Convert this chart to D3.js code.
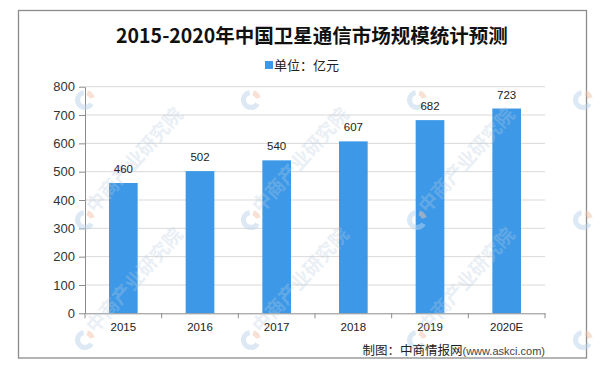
<!DOCTYPE html>
<html>
<head>
<meta charset="utf-8">
<script src="https://cdn.jsdelivr.net/npm/d3@7"></script>
<style>
  html, body { margin: 0; padding: 0; background: #fff; }
  svg { display: block; }
</style>
</head>
<body>
<div id="chart"></div>
<script>
(function(){
  // data
  const years = ["2015", "2016", "2017", "2018", "2019", "2020E"];
  const values = [460, 502, 540, 607, 682, 723];
  const yTicks = [0, 100, 200, 300, 400, 500, 600, 700, 800];

  const title = "2015-2020年中国卫星通信市场规模统计预测";
  const legendLabel = "单位：亿元";

  const w = 602, h = 370;
  const left = 85, right = 545, top = 86.7, bottom = 313.3;
  const barColor = "#3d99e8";
  const latin = "'Liberation Sans', Arial, sans-serif";
  const cjk = "'Noto Sans CJK SC', 'Noto Sans', sans-serif";

  const svg = d3.select("#chart")
    .append("svg")
    .attr("width", w)
    .attr("height", h);

  svg.append("rect")
    .attr("width", w).attr("height", h)
    .attr("fill", "#fff");

  // outer frame
  svg.append("rect")
    .attr("x", 18.5).attr("y", 10.5)
    .attr("width", 568).attr("height", 347.5)
    .attr("fill", "none")
    .attr("stroke", "#8c8c8c")
    .attr("stroke-width", 1.3);

  // SCALES
  const x = d3.scaleBand()
    .domain(years)
    .range([left, right])
    .paddingInner(0.626)
    .paddingOuter(0.313);

  const xEdges = d3.scaleBand().domain(years).range([left, right]);

  const y = d3.scaleLinear()
    .domain([0, 800])
    .range([bottom, top]);

  // GRID
  svg.append("g")
    .selectAll("line")
    .data(yTicks.filter(d => d > 0))
    .enter()
    .append("line")
    .attr("x1", left).attr("x2", right)
    .attr("y1", d => y(d)).attr("y2", d => y(d))
    .attr("stroke", "#d9d9d9")
    .attr("stroke-width", 1);

  // BARS
  svg.append("g")
    .selectAll("rect")
    .data(values)
    .enter()
    .append("rect")
    .attr("x", (d, i) => x(years[i]))
    .attr("y", d => y(d))
    .attr("width", x.bandwidth())
    .attr("height", d => y(0) - y(d))
    .attr("fill", barColor);

  // AXES
  const yAxis = d3.axisLeft(y)
    .tickValues(yTicks)
    .tickSize(6)
    .tickSizeOuter(0)
    .tickPadding(4);

  const yg = svg.append("g")
    .attr("transform", "translate(" + left + ",0)")
    .call(yAxis);
  yg.selectAll("path, line").attr("stroke", "#8c8c8c");
  yg.selectAll("text")
    .attr("font-family", latin)
    .attr("font-size", 13)
    .attr("fill", "#333");

  const xAxis = d3.axisBottom(xEdges)
    .tickSize(0)
    .tickPadding(10);
  const xg = svg.append("g")
    .attr("transform", "translate(0," + bottom + ")")
    .call(xAxis);
  xg.select(".domain").attr("stroke", "#8c8c8c");
  xg.selectAll("text")
    .attr("font-family", latin)
    .attr("font-size", 11.5)
    .attr("fill", "#222");

  // category separators under the x axis
  const edges = years.map(d => xEdges(d)).concat([right]);
  svg.append("g")
    .selectAll("line")
    .data(edges)
    .enter()
    .append("line")
    .attr("x1", d => d).attr("x2", d => d)
    .attr("y1", bottom).attr("y2", bottom + 5)
    .attr("stroke", "#8c8c8c");

  // WATERMARKS
  const arc = d3.arc().innerRadius(5).outerRadius(10);
  const wm = svg.append("g").attr("pointer-events", "none");
  [85, 251, 417, 583].forEach(cx => {
    [100, 220, 340].forEach(cy => {
      const g = wm.append("g").attr("transform", "translate(" + cx + "," + cy + ")");
      g.append("path")
        .attr("d", arc({startAngle: 2.1, endAngle: 6.1}))
        .attr("fill", "#b9d4ec").attr("opacity", 0.5);
      g.append("path")
        .attr("d", arc({startAngle: 0.3, endAngle: 1.3}))
        .attr("fill", "#f2c4aa").attr("opacity", 0.5);
      if (cx < 500 && cy > 100) {
        g.append("text")
          .attr("transform", "translate(10,-6) rotate(-48)")
          .attr("font-family", cjk)
          .attr("font-weight", 700)
          .attr("font-size", 19)
          .attr("fill", "#b8cde0")
          .attr("opacity", 0.3)
          .text("中商产业研究院");
      }
    });
  });

  // VALUE LABELS
  svg.append("g")
    .selectAll("text")
    .data(values)
    .enter()
    .append("text")
    .attr("x", (d, i) => x(years[i]) + x.bandwidth() / 2)
    .attr("y", d => y(d) - 10)
    .attr("text-anchor", "middle")
    .attr("font-family", latin)
    .attr("font-size", 11.5)
    .attr("fill", "#222")
    .text(d => d);

  // TITLE
  svg.append("text")
    .attr("x", 312)
    .attr("y", 43)
    .attr("text-anchor", "middle")
    .attr("font-family", cjk)
    .attr("font-weight", 700)
    .attr("font-size", 19.5)
    .attr("fill", "#111")
    .text(title);

  // LEGEND
  svg.append("rect")
    .attr("x", 265).attr("y", 61)
    .attr("width", 8).attr("height", 8)
    .attr("fill", barColor);
  svg.append("text")
    .attr("x", 274).attr("y", 69.5)
    .attr("font-family", cjk)
    .attr("font-size", 13)
    .attr("fill", "#222")
    .text(legendLabel);

  // SOURCE
  const src = svg.append("text")
    .attr("x", right).attr("y", 355)
    .attr("text-anchor", "end")
    .attr("fill", "#222");
  src.append("tspan")
    .attr("font-family", cjk)
    .attr("font-size", 12.5)
    .text("制图：中商情报网");
  src.append("tspan")
    .attr("font-family", latin)
    .attr("font-size", 11)
    .attr("fill", "#444")
    .text("(www.askci.com)");
})();
</script>
</body>
</html>
